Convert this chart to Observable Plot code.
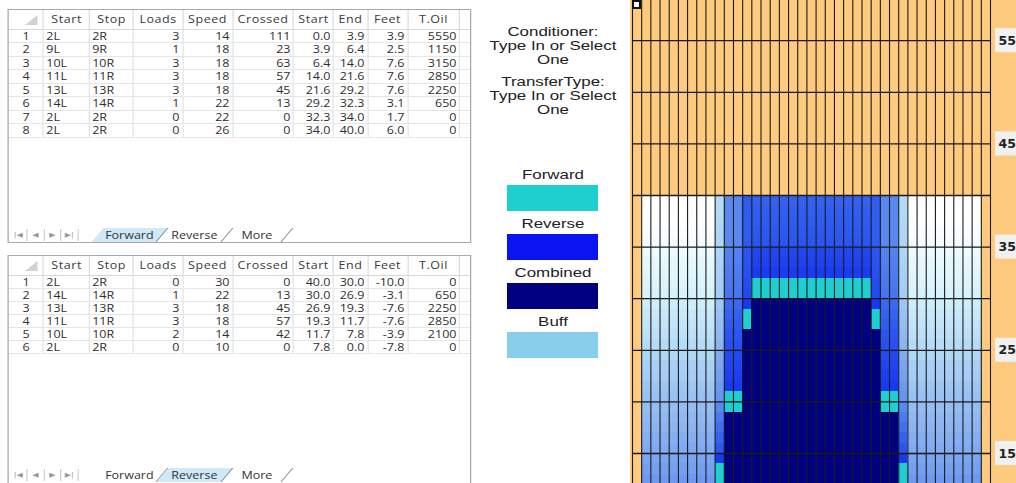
<!DOCTYPE html>
<html>
<head>
<meta charset="utf-8">
<script src="https://cdn.jsdelivr.net/npm/d3@7"></script>
<script src="https://cdn.jsdelivr.net/npm/@observablehq/plot@0.6"></script>
<style>
html,body{margin:0;padding:0;background:#fff;}
body{width:1016px;height:483px;overflow:hidden;position:relative;font-family:"Open Sans",sans-serif;color:#2f2f2f;}
#left{position:absolute;left:0;top:0;width:400px;height:483px;transform:scaleX(1.25);transform-origin:0 0;}
.frame{position:absolute;left:6.4px;width:370.4px;border:1px solid #a9a9a9;box-sizing:border-box;background:#fff;overflow:hidden;}
.row{position:absolute;left:0;display:flex;}
.c{box-sizing:border-box;border-right:1px solid #e3e3e3;border-bottom:1px solid #e6e6e6;padding:0 2px;white-space:nowrap;overflow:hidden;font-size:10px;text-align:right;height:13.2px;line-height:12.4px;flex:none;}
.hd .c{text-align:center;border-bottom:1px solid #d8d8d8;border-right:1px solid #dcdcdc;letter-spacing:0.45px;height:20px;line-height:19px;color:#3a3a3a;}
.c.l{text-align:left;padding-left:1.6px;}
.c.rn{text-align:center;}
.tri{position:absolute;left:13px;top:5px;width:0;height:0;border-left:10px solid transparent;border-bottom:10px solid #d2d2d2;}
.tabbar{position:absolute;left:0;height:14px;width:100%;font-size:10px;}
.nav{position:absolute;top:1px;width:13.6px;height:12px;border-right:1px solid #d0d0d0;box-sizing:border-box;color:#9a9a9a;font-size:6.5px;line-height:12px;text-align:center;font-family:"DejaVu Sans",sans-serif;}
.tab{position:absolute;top:0;height:14px;transform:skewX(-34deg);border-right:1px solid #8f8f8f;box-sizing:border-box;}
.tab span{display:block;transform:skewX(34deg);text-align:center;line-height:14px;color:#333;}
.tab.sel{background:#cfe9f8;}
.mt{position:absolute;left:478px;width:150px;text-align:center;font-family:"Liberation Sans",Arial,sans-serif;font-size:13px;line-height:14px;color:#222;transform:scaleX(1.3);transform-origin:50% 50%;white-space:nowrap;}
.sw{position:absolute;left:507px;width:91px;height:26px;}
#grid{position:absolute;left:630px;top:0;width:386px;height:483px;overflow:hidden;}
#cursor{position:absolute;left:632px;top:0;width:9px;height:9px;box-sizing:border-box;border:2px solid #111;background:#fff;}
</style>
</head>
<body>
<div id="left"></div>
<div id="middle"></div>
<div id="grid"></div>
<div id="cursor"></div>
<script>
// ---------------- data ----------------
const headers = ["Start", "Stop", "Loads", "Speed", "Crossed", "Start", "End", "Feet", "T.Oil"];
const forwardStart = ["2L", "9L", "10L", "11L", "13L", "14L", "2L", "2L"];
const forwardStop = ["2R", "9R", "10R", "11R", "13R", "14R", "2R", "2R"];
const forwardLoads = [3, 1, 3, 3, 3, 1, 0, 0];
const forwardSpeed = [14, 18, 18, 18, 18, 22, 22, 26];
const forwardCrossed = [111, 23, 63, 57, 45, 13, 0, 0];
const forwardFrom = [0.0, 3.9, 6.4, 14.0, 21.6, 29.2, 32.3, 34.0];
const forwardTo = [3.9, 6.4, 14.0, 21.6, 29.2, 32.3, 34.0, 40.0];
const forwardFeet = [3.9, 2.5, 7.6, 7.6, 7.6, 3.1, 1.7, 6.0];
const forwardOil = [5550, 1150, 3150, 2850, 2250, 650, 0, 0];

const reverseStart = ["2L", "14L", "13L", "11L", "10L", "2L"];
const reverseStop = ["2R", "14R", "13R", "11R", "10R", "2R"];
const reverseLoads = [0, 1, 3, 3, 2, 0];
const reverseSpeed = [30, 22, 18, 18, 14, 10];
const reverseCrossed = [0, 13, 45, 57, 42, 0];
const reverseFrom = [40.0, 30.0, 26.9, 19.3, 11.7, 7.8];
const reverseTo = [30.0, 26.9, 19.3, 11.7, 7.8, 0.0];
const reverseFeet = [-10.0, -3.1, -7.6, -7.6, -3.9, -7.8];
const reverseOil = [0, 650, 2250, 2850, 2100, 0];

const sheetTabs = ["Forward", "Reverse", "More"];
const conditionerLines = ["Conditioner:", "Type In or Select", "One"];
const transferLines = ["TransferType:", "Type In or Select", "One"];
const legendKinds = ["Forward", "Reverse", "Combined", "Buff"];

// lane grid: boards 1..39, foot rows; rows past the pattern are plain lane
const boards = d3.range(1, 40);
const footRows = d3.range(12, 60);
const patternLength = 40;
const gridFeet = [15, 20, 25, 30, 35, 40, 45, 50, 55, 60];
const footLabels = [55, 45, 35, 25, 15];
// per-row oil shade, rows 39 ft down to 12 ft
// number = blue shade (0 white .. 1 saturated), "F" forward only, "C" combined
const outerShade = [0, 0, 0.01, 0.03, 0.06, 0.10, 0.13, 0.16, 0.19, 0.22, 0.26, 0.30, 0.33, 0.36, 0.39,
  0.42, 0.45, 0.47, 0.50, 0.52, 0.54, 0.56, 0.58, 0.60, 0.62, 0.64, 0.66, 0.68];
const board10Shade = [0.40, 0.40, 0.41, 0.42, 0.42, 0.43, 0.44, 0.45, 0.46, 0.47, 0.50, 0.52, 0.54, 0.56, 0.58,
  0.62, 0.64, 0.66, 0.68, 0.70, 0.74, 0.78, 0.82, 0.86, 0.90, 1.0, "F", "F"];
const board11Shade = [0.74, 0.74, 0.74, 0.74, 0.74, 0.76, 0.77, 0.78, 0.79, 0.80, 0.84, 0.86, 0.88, 0.90, 0.92,
  0.94, 0.96, 0.98, 1.0, "F", "F", "C", "C", "C", "C", "C", "C", "C"];
const board13Shade = [0.88, 0.88, 0.88, 0.88, 0.88, 0.90, 0.91, 0.92, 0.93, 0.94, 1.0, "F", "F", "C", "C",
  "C", "C", "C", "C", "C", "C", "C", "C", "C", "C", "C", "C", "C"];
const centerShade = [0.86, 0.87, 0.88, 0.89, 0.90, 0.95, 0.97, 0.99, "F", "F", "C", "C", "C", "C", "C",
  "C", "C", "C", "C", "C", "C", "C", "C", "C", "C", "C", "C", "C"];

// ---------------- styles ----------------
const palette = {Forward: "#1fcfcf", Reverse: "#0a14f2", Combined: "#000080", Buff: "#87ceeb"};
const laneColor = "#fecb7e";
const ramp = d3.scaleLinear()
  .domain([0, 0.2, 0.4, 0.55, 0.65, 0.75, 0.88, 1])
  .range(["#ffffff", "#daf4fc", "#b3dbf6", "#93bbf2", "#78a3f0", "#5585f0", "#2e5bf0", "#1838f2"]);

// ---------------- tables ----------------
const colW = [28, 36.8, 35.2, 39.2, 40, 48.8, 32, 27.2, 32, 41.6, 9.6];
function makeRows(cols) {
  return cols[0].map((_, i) => cols.map(c => c[i]));
}
function fmt(v, j) { return (j >= 5 && j <= 7) ? v.toFixed(1) : String(v); }
function buildSheet(top, height, rows, selected, rowStep, tabTop) {
  const f = document.createElement("div");
  f.className = "frame";
  f.style.top = top + "px";
  f.style.height = height + "px";
  let html = `<div class="row hd" style="top:0">` +
    `<div class="c" style="width:${colW[0]}px;position:relative"><span class="tri"></span></div>` +
    headers.map((h, j) => `<div class="c" style="width:${colW[j + 1]}px">${h}</div>`).join("") +
    `<div class="c" style="width:${colW[10]}px"></div></div>`;
  rows.forEach((r, i) => {
    html += `<div class="row" style="top:${20 + i * rowStep}px">` +
      `<div class="c rn" style="width:${colW[0]}px;height:${rowStep}px">${i + 1}</div>` +
      r.map((v, j) => `<div class="c${j < 2 ? " l" : ""}" style="width:${colW[j + 1]}px;height:${rowStep}px">${fmt(v, j)}</div>`).join("") +
      `<div class="c" style="width:${colW[10]}px;height:${rowStep}px;border-right:none"></div></div>`;
  });
  html += `<div class="tabbar" style="top:${tabTop}px">`;
  ["|◀", "◀", "▶", "▶|"].forEach((g, k) => {
    html += `<div class="nav" style="left:${1 + k * 13.6}px">${g}</div>`;
  });
  sheetTabs.forEach((t, k) => {
    html += `<div class="tab${k === selected ? " sel" : ""}" style="left:${71 + k * 52}px;width:${k === 2 ? 48 : 52}px"><span>${t}</span></div>`;
  });
  html += `</div>`;
  f.innerHTML = html;
  document.getElementById("left").appendChild(f);
}
buildSheet(9, 234, makeRows([forwardStart, forwardStop, forwardLoads, forwardSpeed, forwardCrossed, forwardFrom, forwardTo, forwardFeet, forwardOil]), 0, 13.45, 218);
buildSheet(255, 235, makeRows([reverseStart, reverseStop, reverseLoads, reverseSpeed, reverseCrossed, reverseFrom, reverseTo, reverseFeet, reverseOil]), 1, 13.0, 212);

// ---------------- middle panel ----------------
const mid = document.getElementById("middle");
function addLine(text, cy) {
  const d = document.createElement("div");
  d.className = "mt";
  d.style.top = (cy - 7) + "px";
  d.textContent = text;
  mid.appendChild(d);
}
conditionerLines.forEach((t, i) => addLine(t, 32 + i * 14));
transferLines.forEach((t, i) => addLine(t, 82 + i * 14));
legendKinds.forEach((k, i) => {
  addLine(k, 175 + i * 49);
  const s = document.createElement("div");
  s.className = "sw";
  s.style.top = (185 + i * 49) + "px";
  s.style.background = palette[k];
  mid.appendChild(s);
});

// ---------------- lane grid ----------------
function shadeRow(m) {
  if (m <= 9) return outerShade;
  if (m === 10) return board10Shade;
  if (m <= 12) return board11Shade;
  if (m === 13) return board13Shade;
  return centerShade;
}
const cells = [];
for (const b of boards) {
  const m = b <= 20 ? b : 40 - b;
  for (const f of footRows) {
    let v;
    if (m === 1 || f >= patternLength) v = "lane";
    else v = shadeRow(m)[patternLength - 1 - f];
    cells.push({board: b, ft: f, v});
  }
}
function cellColor(d) {
  if (d.v === "lane") return laneColor;
  if (d.v === "F") return palette.Forward;
  if (d.v === "C") return palette.Combined;
  return ramp(d.v);
}
const boardEdges = [0.5, ...boards.map(b => b + 0.5)];

const chart = Plot.plot({
  width: 386,
  height: 483,
  marginLeft: 2,
  marginRight: 26,
  marginTop: 0,
  marginBottom: 0,
  style: {background: laneColor, fontFamily: "DejaVu Sans", fontSize: "12.5px", fontWeight: "bold", color: "#222", overflow: "hidden"},
  x: {domain: [0.5, 39.5], axis: null},
  y: {domain: [0, 40], range: [607.8, 195], axis: "right", ticks: footLabels, tickSize: 0, tickPadding: 8, tickFormat: d => String(d), label: null},
  color: {type: "identity"},
  marks: [
    Plot.rect(cells, {x1: d => d.board - 0.5, x2: d => d.board + 0.5, y1: "ft", y2: d => d.ft + 1, fill: cellColor, shapeRendering: "crispEdges"}),
    Plot.ruleX(boardEdges, {stroke: "#1c1c1c", strokeWidth: 1.1}),
    Plot.ruleY(gridFeet, {stroke: "#1a1a1a", strokeWidth: 1.3})
  ]
});
document.getElementById("grid").appendChild(chart);

// light boxes behind the foot labels
const ys = chart.scale("y");
const firstText = chart.querySelector("text");
if (firstText) {
  const grp = firstText.parentNode;
  const ns = "http://www.w3.org/2000/svg";
  const g = document.createElementNS(ns, "g");
  footLabels.forEach(v => {
    const r = document.createElementNS(ns, "rect");
    r.setAttribute("x", 365);
    r.setAttribute("y", ys.apply(v) - 12);
    r.setAttribute("width", 21);
    r.setAttribute("height", 24);
    r.setAttribute("fill", "#f0f0f0");
    g.appendChild(r);
  });
  grp.parentNode.insertBefore(g, grp);
}
</script>
</body>
</html>
